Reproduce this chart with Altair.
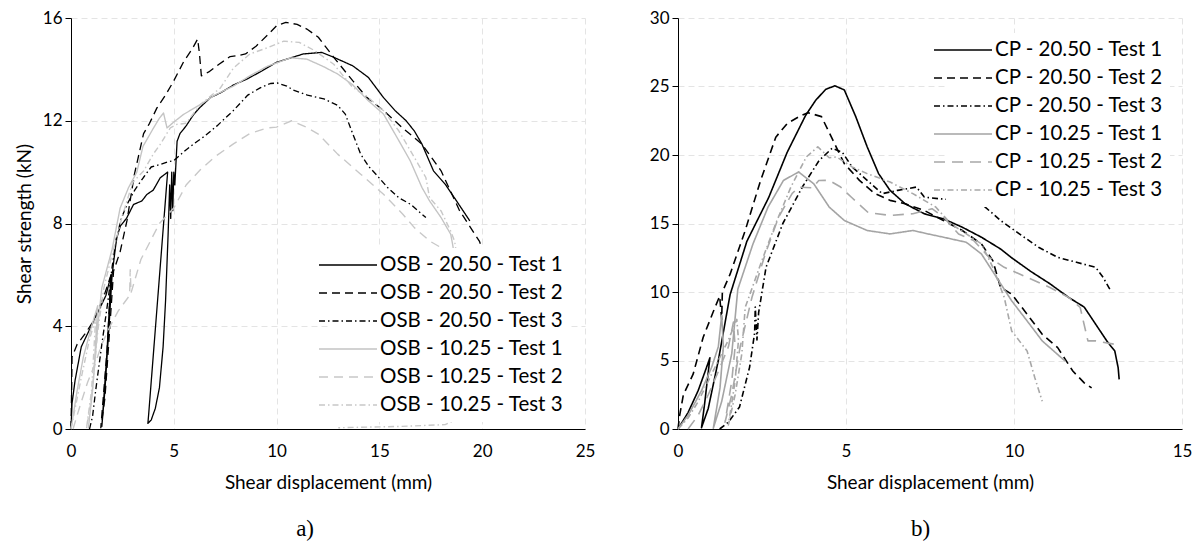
import altair as alt
import pandas as pd

# ---------------- data ----------------
OSB_NAMES = ["OSB - 20.50 - Test 1", "OSB - 20.50 - Test 2", "OSB - 20.50 - Test 3",
             "OSB - 10.25 - Test 1", "OSB - 10.25 - Test 2", "OSB - 10.25 - Test 3"]
CP_NAMES = ["CP - 20.50 - Test 1", "CP - 20.50 - Test 2", "CP - 20.50 - Test 3",
            "CP - 10.25 - Test 1", "CP - 10.25 - Test 2", "CP - 10.25 - Test 3"]

OSB_20_T1 = [(0.0, 0.0), (0.05, 1.0), (0.2, 1.9), (0.5, 3.2), (0.8, 3.7), (1.1, 4.2), (1.4, 4.7),
             (1.7, 5.2), (1.95, 6.0), (1.75, 3.0), (1.5, 0.1), (1.65, 1.5), (1.85, 4.0), (2.0, 6.0),
             (2.15, 7.0), (2.23, 7.45), (2.4, 7.9), (2.7, 8.2), (3.04, 8.74), (3.45, 8.88), (3.69, 9.13),
             (4.0, 9.3), (4.34, 9.78), (4.57, 9.92), (4.7, 10.0), (3.78, 0.6), (3.74, 0.22), (3.9, 0.35),
             (4.1, 0.8), (4.3, 1.6), (4.48, 3.2), (4.6, 5.0), (4.72, 7.5), (4.8, 9.5), (4.85, 8.2),
             (4.9, 10.0), (4.95, 8.5), (5.0, 10.0), (5.05, 9.5), (5.16, 11.2), (5.3, 11.5), (5.6, 11.8),
             (5.97, 12.25), (6.25, 12.5), (6.78, 12.9), (7.3, 13.1), (7.92, 13.4), (8.5, 13.6), (9.2, 13.9),
             (9.98, 14.27), (10.7, 14.45), (11.3, 14.6), (12.2, 14.66), (12.78, 14.47), (13.7, 14.14),
             (14.46, 13.69), (15.2, 12.9), (15.77, 12.39), (16.3, 12.0), (16.7, 11.6), (17.07, 11.09),
             (17.63, 10.05), (18.2, 9.53), (18.75, 8.88), (19.4, 8.1)]
OSB_20_T2 = [(0.0, 0.0), (0.03, 1.5), (0.05, 2.8), (0.3, 3.3), (0.68, 3.7), (1.09, 4.2), (1.57, 5.1),
             (1.95, 6.0), (1.75, 3.0), (1.45, 0.05), (1.65, 1.2), (1.85, 3.5), (2.07, 6.15), (2.39, 6.9),
             (2.72, 8.1), (3.08, 9.9), (3.53, 11.5), (3.82, 11.9), (4.18, 12.5), (4.6, 13.0), (4.99, 13.54),
             (5.48, 14.3), (5.9, 14.8), (6.16, 15.18), (6.25, 14.6), (6.34, 13.75), (6.7, 13.9), (7.2, 14.2),
             (7.74, 14.5), (8.2, 14.55), (8.49, 14.6), (9.0, 14.9), (9.6, 15.37), (10.0, 15.7), (10.45, 15.83),
             (11.0, 15.75), (11.47, 15.57), (12.03, 15.25), (12.78, 14.47), (13.7, 13.56), (14.4, 12.9),
             (15.2, 12.4), (16.1, 11.74), (17.07, 11.09), (18.0, 10.05), (18.9, 8.5), (19.87, 7.3), (20.0, 7.0)]
OSB_20_T3 = [(0.9, 0.0), (1.05, 0.5), (1.2, 1.5), (1.5, 3.3), (1.8, 5.0), (2.0, 6.3), (2.2, 7.4),
             (2.45, 8.2), (2.72, 8.74), (3.1, 9.3), (3.53, 9.8), (3.9, 10.2), (4.34, 10.3), (4.7, 10.4),
             (5.0, 10.45), (5.5, 10.8), (5.97, 11.1), (6.5, 11.4), (7.1, 11.8), (7.9, 12.4), (8.6, 13.0),
             (9.2, 13.28), (9.7, 13.45), (10.03, 13.47), (10.5, 13.35), (10.8, 13.2), (11.5, 13.0),
             (12.3, 12.85), (12.97, 12.6), (13.34, 12.26), (13.7, 11.5), (14.09, 10.7), (14.5, 10.2),
             (14.83, 9.92), (15.4, 9.4), (15.95, 9.0), (16.51, 8.75), (17.26, 8.23)]
OSB_10_T1 = [(0.0, 0.0), (0.1, 0.5), (0.3, 1.5), (0.6, 2.8), (1.0, 4.0), (1.3, 4.8), (1.1, 2.0),
             (0.85, 0.05), (1.05, 1.5), (1.3, 4.0), (1.5, 5.5), (2.0, 7.0), (2.39, 8.6), (2.8, 9.4),
             (3.2, 10.0), (3.5, 11.0), (4.0, 11.7), (4.3, 12.1), (4.5, 12.3), (4.67, 11.72), (5.0, 11.95),
             (5.48, 12.25), (6.29, 12.63), (7.0, 13.0), (7.9, 13.35), (8.7, 13.75), (9.55, 14.12),
             (10.68, 14.45), (11.47, 14.4), (12.3, 14.1), (12.97, 13.82), (13.7, 13.4), (14.46, 12.78),
             (15.2, 12.26), (15.95, 11.22), (16.5, 10.44), (17.07, 9.4), (17.44, 8.88), (18.0, 8.23),
             (18.47, 7.58), (18.56, 7.19), (18.7, 6.5)]
OSB_10_T2 = [(0.1, 0.0), (0.4, 0.8), (0.8, 1.8), (1.2, 2.6), (1.5, 3.3), (1.9, 4.0), (2.3, 4.6),
             (2.85, 5.2), (2.88, 6.2), (2.92, 5.3), (3.4, 6.6), (3.85, 7.3), (4.3, 8.0), (5.0, 8.6),
             (5.6, 9.5), (6.3, 10.1), (7.0, 10.6), (7.9, 11.1), (8.7, 11.5), (9.55, 11.72), (10.0, 11.75),
             (10.73, 12.0), (11.47, 11.74), (12.03, 11.48), (12.97, 10.7), (14.09, 9.92), (15.2, 9.14),
             (16.14, 8.36), (16.7, 7.84), (17.44, 7.32), (18.0, 7.06), (18.5, 6.5)]
OSB_10_T3 = [(0.0, 0.0), (0.2, 0.8), (0.5, 2.0), (0.9, 3.5), (1.2, 4.3), (1.0, 1.5), (0.75, 0.0),
             (1.0, 1.2), (1.3, 3.8), (1.6, 5.5), (2.0, 6.8), (2.5, 8.3), (3.0, 9.6), (3.53, 10.04),
             (4.0, 10.7), (4.34, 11.08), (4.83, 11.72), (5.15, 11.86), (5.6, 11.9), (6.29, 12.63),
             (7.27, 13.28), (7.9, 14.05), (8.7, 14.6), (9.55, 14.84), (10.35, 15.1), (11.1, 15.05),
             (11.85, 14.73), (12.78, 14.2), (13.7, 13.3), (14.46, 12.9), (15.2, 12.39), (15.95, 11.6),
             (16.7, 10.57), (17.26, 9.79), (17.44, 9.0), (18.0, 8.49), (18.47, 7.7), (18.66, 7.3),
             (19.0, 5.5), (19.5, 2.0), (19.8, 0.5), (19.6, 0.42), (19.4, 0.43), (18.9, 0.43),
             (18.2, 0.17), (16.0, 0.1), (13.0, 0.05)]

CP_20_T1 = [(0.0, 0.0), (0.3, 1.2), (0.6, 2.8), (0.85, 4.5), (0.95, 5.2), (0.8, 2.0), (0.7, 0.1),
            (0.9, 1.5), (1.2, 5.0), (1.55, 9.8), (2.05, 13.7), (2.7, 16.9), (3.25, 20.2), (3.8, 22.9),
            (4.1, 24.0), (4.4, 24.8), (4.67, 25.05), (4.95, 24.75), (5.29, 22.8), (5.63, 20.6),
            (5.97, 18.64), (6.31, 17.42), (6.76, 16.44), (7.33, 15.71), (7.9, 15.34), (8.46, 14.73),
            (9.03, 14.0), (9.6, 13.14), (9.93, 12.5), (10.5, 11.5), (11.07, 10.6), (11.63, 9.6),
            (12.09, 8.9), (12.43, 7.65), (12.77, 6.4), (13.0, 5.69), (13.1, 4.47), (13.13, 3.62)]
CP_20_T2 = [(0.0, 0.0), (0.05, 1.0), (0.16, 2.5), (0.45, 4.0), (0.75, 6.7), (1.04, 8.5), (1.24, 9.7),
            (1.3, 8.0), (1.32, 10.0), (1.55, 11.3), (2.0, 14.49), (2.46, 18.15), (2.91, 21.3),
            (3.25, 22.3), (3.6, 22.8), (3.87, 23.09), (4.27, 22.8), (4.61, 21.08), (4.95, 19.37),
            (5.4, 18.15), (5.86, 17.18), (6.31, 16.69), (6.76, 16.44), (7.33, 15.95), (7.9, 15.22),
            (8.46, 14.49), (9.03, 13.51), (9.37, 12.29), (9.6, 10.33), (9.93, 9.85), (10.39, 8.38),
            (10.84, 6.91), (11.3, 5.94), (11.75, 4.23), (12.09, 3.37), (12.31, 3.0)]
CP_20_T3 = [(1.24, 0.0), (1.5, 0.5), (1.83, 1.6), (2.13, 4.5), (2.28, 7.0), (2.3, 8.9), (2.35, 6.5),
            (2.4, 8.5), (2.62, 11.8), (3.12, 15.0), (3.71, 17.7), (4.2, 19.6), (4.59, 20.5),
            (4.89, 20.2), (5.18, 19.13), (5.63, 18.15), (6.08, 17.18), (6.54, 17.42), (7.1, 17.66),
            (7.33, 16.93), (7.8, 16.8), (8.3, 16.7), (8.8, 16.56), (9.03, 16.44), (9.6, 15.22),
            (10.16, 14.24), (10.73, 13.27), (11.3, 12.53), (11.86, 12.17), (12.43, 11.8),
            (12.65, 11.07), (12.88, 10.09)]
CP_10_T1 = [(0.0, 0.0), (0.3, 1.0), (0.7, 2.8), (1.0, 4.5), (1.2, 6.0), (1.3, 8.3), (1.35, 6.0),
            (1.25, 3.0), (1.05, 0.05), (1.3, 2.0), (1.6, 5.5), (1.78, 10.2), (2.23, 13.5), (2.68, 16.2),
            (3.14, 18.15), (3.59, 18.76), (4.04, 17.9), (4.5, 16.2), (4.95, 15.22), (5.63, 14.49),
            (6.31, 14.24), (6.99, 14.49), (7.44, 14.24), (7.9, 14.0), (8.58, 13.63), (9.03, 12.78),
            (9.48, 11.07), (9.93, 9.36), (10.39, 7.89), (10.84, 6.43), (11.52, 4.96)]
CP_10_T2 = [(0.3, 0.0), (0.6, 1.0), (0.9, 2.5), (1.2, 4.2), (1.5, 6.0), (1.65, 7.8), (1.7, 6.0),
            (1.6, 3.5), (1.4, 0.5), (1.6, 2.5), (1.85, 6.0), (2.2, 9.6), (2.6, 12.8), (3.0, 15.5),
            (3.4, 17.2), (3.6, 17.65), (4.0, 17.6), (4.19, 18.14), (4.5, 18.15), (4.84, 17.66),
            (5.17, 16.9), (5.66, 15.8), (6.31, 15.59), (6.99, 15.71), (7.56, 16.08), (7.9, 15.47),
            (8.35, 14.24), (8.8, 13.76), (9.26, 12.53), (9.71, 11.8), (10.39, 11.07), (11.07, 10.33),
            (11.63, 9.6), (11.97, 8.87), (12.2, 6.43), (12.43, 6.43), (13.0, 6.18)]
CP_10_T3 = [(0.0, 0.0), (0.3, 0.8), (0.6, 2.0), (0.9, 3.5), (1.2, 5.0), (1.5, 6.5), (1.75, 8.0),
            (1.8, 6.5), (1.7, 3.5), (1.5, 0.3), (1.7, 2.5), (1.9, 5.5), (2.0, 8.87), (2.46, 12.05),
            (2.91, 15.0), (3.36, 17.66), (3.82, 19.86), (4.16, 20.6), (4.5, 19.8), (4.72, 19.86),
            (5.18, 19.13), (5.63, 18.64), (6.31, 18.03), (6.99, 17.18), (7.67, 16.2), (8.12, 14.98),
            (8.58, 14.24), (9.03, 13.51), (9.37, 11.8), (9.71, 9.6), (9.93, 7.16), (10.39, 5.69),
            (10.62, 3.74), (10.84, 2.03)]

OSB_CURVES = [OSB_20_T1, OSB_20_T2, OSB_20_T3, OSB_10_T1, OSB_10_T2, OSB_10_T3]
CP_CURVES = [CP_20_T1, CP_20_T2, CP_20_T3, CP_10_T1, CP_10_T2, CP_10_T3]

OSB_X_TICKS = [0, 5, 10, 15, 20, 25]
OSB_Y_TICKS = [0, 4, 8, 12, 16]
CP_X_TICKS = [0, 5, 10, 15]
CP_Y_TICKS = [0, 5, 10, 15, 20, 25, 30]

# ---------------- styles ----------------
FONT = "Lato"
OSB_COLORS = ["#000000", "#000000", "#000000", "#c4c4c4", "#c8c8c8", "#c8c8c8"]
CP_COLORS = ["#000000", "#000000", "#000000", "#a4a4a4", "#a8a8a8", "#a8a8a8"]
SOLID = [1, 0]
DASH = [8, 5]
DASHDOT = [6, 3, 1.5, 3]
OSB_DASHES = [SOLID, DASH, DASHDOT, SOLID, [9, 6], DASHDOT]
CP_DASHES = [SOLID, DASH, DASHDOT, SOLID, [11, 7], DASHDOT]
OSB_WIDTHS = [1.3, 1.4, 1.4, 1.5, 3.0, 1.5]
CP_WIDTHS = [1.6, 1.6, 1.6, 1.8, 1.8, 1.8]


def frame(curves, names):
    rows = []
    for name, pts in zip(names, curves):
        for k, (x, y) in enumerate(pts):
            rows.append({"series": name, "k": k, "x": x, "y": y})
    return pd.DataFrame(rows)


def panel(curves, names, colors, dashes, widths, xticks, yticks, ytitle, label,
          lx, ly, w, h):
    df = frame(curves, names)
    legend = alt.Legend(title=None, orient="none", legendX=lx, legendY=ly,
                        symbolType="M-2.9,0H2.9", symbolSize=400,
                        labelFont=FONT, labelFontSize=20.5, labelColor="black",
                        rowPadding=6, labelOffset=21, fillColor="white",
                        padding=6, labelLimit=400)
    xaxis = alt.Axis(values=xticks, title="Shear displacement (mm)", ticks=False,
                     labelFlush=False, labelPadding=14, titlePadding=14, format="d")
    yargs = dict(values=yticks, tickSize=6, labelPadding=3, titlePadding=8, format="d")
    if ytitle:
        yaxis = alt.Axis(title=ytitle, **yargs)
    else:
        yaxis = alt.Axis(title=None, **yargs)
    return alt.Chart(df).mark_line(strokeJoin="round", strokeCap="butt").encode(
        x=alt.X("x:Q", scale=alt.Scale(domain=[xticks[0], xticks[-1]], nice=False), axis=xaxis),
        y=alt.Y("y:Q", scale=alt.Scale(domain=[yticks[0], yticks[-1]], nice=False), axis=yaxis),
        color=alt.Color("series:N", sort=names, scale=alt.Scale(domain=names, range=colors), legend=legend),
        strokeDash=alt.StrokeDash("series:N", sort=names, scale=alt.Scale(domain=names, range=dashes), legend=legend),
        strokeWidth=alt.StrokeWidth("series:N", sort=names, scale=alt.Scale(domain=names, range=widths), legend=legend),
        order=alt.Order("k:Q"),
    ).properties(
        width=w, height=h,
        title=alt.TitleParams(label, orient="bottom", font="Liberation Serif", fontSize=23,
                              fontWeight="normal", color="black", anchor="middle",
                              frame="bounds", offset=26),
    )


left = panel(OSB_CURVES, OSB_NAMES, OSB_COLORS, OSB_DASHES, OSB_WIDTHS, OSB_X_TICKS, OSB_Y_TICKS,
             "Shear strength (kN)", "a)", 260, 230, 514, 411)
right = panel(CP_CURVES, CP_NAMES, CP_COLORS, CP_DASHES, CP_WIDTHS, CP_X_TICKS, CP_Y_TICKS,
              None, "b)", 268, 15, 504, 411)

chart = alt.hconcat(left, right, spacing=54).resolve_scale(
    color="independent", strokeDash="independent", strokeWidth="independent"
).resolve_legend(
    color="independent", strokeDash="independent", strokeWidth="independent"
).properties(
    padding={"left": 7, "top": 1, "right": 0, "bottom": 0},
    background="white",
).configure_view(stroke=None).configure_axis(
    domainColor="black", domainWidth=1, tickColor="black", tickWidth=1,
    gridColor="#e4e4e4", gridDash=[6, 4], gridWidth=1,
    labelFont=FONT, labelFontSize=17, labelColor="black",
    titleFont=FONT, titleFontSize=19, titleFontWeight="normal", titleColor="black",
)

chart.save("out.html", embed_options={"renderer": "svg", "actions": False})
